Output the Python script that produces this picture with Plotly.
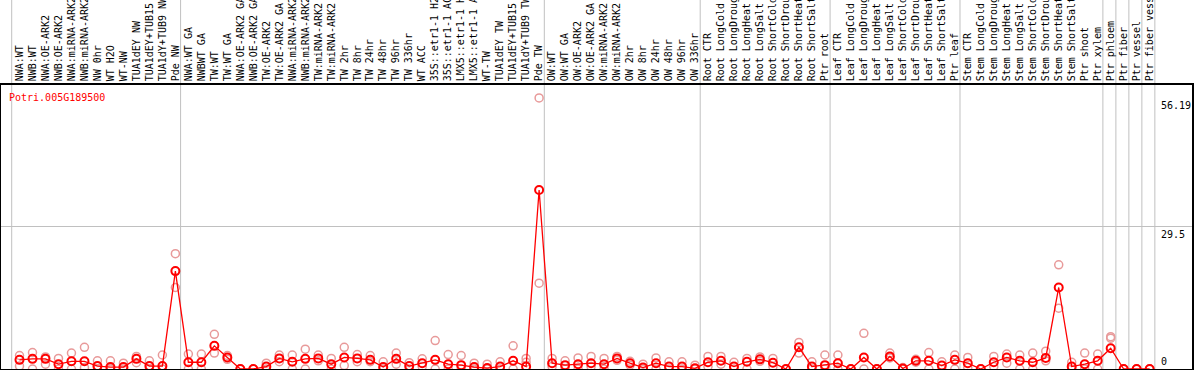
import plotly.graph_objects as go

labels = [
    "NWA:WT", "NWB:WT", "NWA:OE-ARK2", "NWB:OE-ARK2", "NWA:miRNA-ARK2", "NWB:miRNA-ARK2",
    "NW 0hr", "WT H2O", "WT-NW", "TUA1dEY NW", "TUA1dEY+TUB15 NW", "TUA1dY+TUB9 NW", "Pde NW",
    "NWA:WT GA", "NWBWT GA", "TW:WT", "TW:WT GA", "NWA:OE-ARK2 GA", "NWB:OE-ARK2 GA",
    "TW:OE-ARK2", "TW:OE-ARK2 GA", "NWA:miRNA-ARK2", "NWB:miRNA-ARK2", "TW:miRNA-ARK2",
    "TW:miRNA-ARK2", "TW 2hr", "TW 8hr", "TW 24hr", "TW 48hr", "TW 96hr", "TW 336hr",
    "WT ACC", "35S::etr1-1 H2O", "35S::etr1-1 ACC", "LMX5::etr1-1 H2O", "LMX5::etr1-1 ACC",
    "WT-TW", "TUA1dEY TW", "TUA1dEY+TUB15 TW", "TUA1dY+TUB9 TW", "Pde TW",
    "OW:WT", "OW:WT GA", "OW:OE-ARK2", "OW:OE-ARK2 GA", "OW:miRNA-ARK2", "OW:miRNA-ARK2",
    "OW 2hr", "OW 8hr", "OW 24hr", "OW 48hr", "OW 96hr", "OW 336hr",
    "Root CTR", "Root LongCold", "Root LongDrought", "Root LongHeat", "Root LongSalt",
    "Root ShortCold", "Root ShortDrought", "Root ShortHeat", "Root ShortSalt", "Ptr root",
    "Leaf CTR", "Leaf LongCold", "Leaf LongDrought", "Leaf LongHeat", "Leaf LongSalt",
    "Leaf ShortCold", "Leaf ShortDrought", "Leaf ShortHeat", "Leaf ShortSalt", "Ptr leaf",
    "Stem CTR", "Stem LongCold", "Stem LongDrought", "Stem LongHeat", "Stem LongSalt",
    "Stem ShortCold", "Stem ShortDrought", "Stem ShortHeat", "Stem ShortSalt",
    "Ptr shoot", "Ptr xylem", "Ptr phloem", "Ptr fiber", "Ptr vessel", "Ptr fiber vessel",
]

mean_values = [
    1.9, 2.1, 2.1, 1.0, 1.6, 1.6, 0.6, 0.4, 0.4, 2.1, 0.6, 0.6, 20.3,
    1.4, 1.4, 4.8, 2.4, 0.0, 0.0, 0.5, 2.2, 1.5, 2.1, 2.2, 1.0, 2.4, 2.2, 1.9,
    0.4, 2.1, 0.6, 1.2, 1.9, 1.0, 0.8, 0.4, 0.2, 0.5, 1.7, 0.5, 37.1,
    1.2, 0.8, 1.0, 1.2, 1.0, 2.2, 1.2, 0.3, 1.2, 0.5, 0.5, 0.15,
    1.4, 1.7, 0.5, 1.5, 2.0, 1.3, 0.0, 4.5, 0.5, 0.8,
    1.2, 0.0, 2.4, 0.0, 2.6, 0.1, 1.7, 1.7, 0.7, 1.9,
    1.2, 0.0, 1.4, 2.4, 1.7, 1.4, 2.3, 16.9, 0.5, 1.0, 1.7,
    4.3, 0.0, 0.0, 0.0,
]

rep_high = [
    2.8, 3.4, 2.5, 2.2, 3.3, 4.5, 1.7, 1.7, 1.2, 2.6, 1.7, 2.9, 23.9,
    3.1, 3.1, 7.2, 2.8, 0.0, 0.0, 1.2, 2.9, 2.9, 4.1, 2.9, 2.2, 4.5, 3.0, 2.8,
    1.5, 3.3, 1.3, 2.1, 5.9, 3.0, 2.8, 1.2, 1.0, 1.5, 4.8, 2.2, 56.19,
    2.2, 1.7, 2.3, 2.6, 2.2, 2.6, 1.6, 1.0, 2.3, 1.5, 1.5, 0.8,
    2.6, 2.6, 1.4, 2.2, 2.5, 2.2, 0.0, 5.5, 1.5, 2.9,
    2.9, 0.0, 7.4, 0.0, 3.3, 0.3, 2.0, 3.4, 1.5, 2.9,
    2.4, 0.0, 2.6, 3.1, 2.9, 3.3, 3.7, 21.6, 1.4, 3.3, 3.1,
    6.7, 0.0, 0.0, 0.0,
]

rep_low = [
    0.6, 0.0, 1.0, 0.0, 0.0, 0.3, 0.0, 0.0, 0.0, 1.3, 0.0, 0.0, 16.9,
    0.0, 0.0, 3.3, 2.0, 0.0, 0.0, 0.0, 1.5, 0.0, 0.0, 1.7, 0.0, 0.7, 1.5, 1.5,
    0.0, 1.0, 0.0, 0.5, 0.0, 0.0, 0.0, 0.0, 0.0, 0.0, 0.0, 1.4, 17.8,
    0.5, 0.0, 0.0, 0.5, 0.0, 1.8, 0.8, 0.0, 0.0, 0.0, 0.0, 0.0,
    0.5, 1.0, 0.0, 0.0, 1.6, 0.5, 0.0, 3.3, 0.0, 0.0,
    0.0, 0.0, 0.0, 0.0, 2.3, 0.0, 1.4, 0.0, 0.0, 0.0,
    0.3, 0.0, 0.5, 1.2, 0.0, 0.0, 1.7, 12.6, 0.0, 0.0, 0.0,
    6.4, 0.0, 0.0, 0.0,
]

group_ends = [0, 13, 41, 53, 63, 73, 84, 85, 86, 87, 88]
y_ticks = [0, 29.5, 56.19]
gene_id = "Potri.005G189500"

positions = list(range(1, len(labels) + 1))
MONO = "DejaVu Sans Mono"
PALE = "#E89A9A"

fig = go.Figure()
for reps in (rep_high, rep_low):
    fig.add_trace(go.Scatter(
        x=positions, y=reps, mode="markers",
        marker=dict(symbol="circle-open", size=8, color=PALE, line=dict(width=1.5, color=PALE)),
        showlegend=False, hoverinfo="skip",
    ))
fig.add_trace(go.Scatter(
    x=positions, y=mean_values, mode="lines+markers",
    line=dict(color="#FF0000", width=1.3),
    marker=dict(symbol="circle-open", size=8, color="#FF0000", line=dict(width=2, color="#FF0000")),
    showlegend=False,
))

for g in group_ends:
    fig.add_shape(type="line", xref="x", yref="paper", x0=g + 0.4, x1=g + 0.4, y0=0, y1=1.31,
                  line=dict(color="#C0C0C0", width=1), layer="below")

for v in y_ticks:
    fig.add_annotation(x=88.75, y=v, xref="x", yref="y", text=("%g" % v), showarrow=False,
                       xanchor="left", yanchor=("bottom" if v == 0 else "top"),
                       font=dict(family=MONO, size=10, color="black"))

fig.add_annotation(x=0.005, y=0.984, xref="paper", yref="paper", text=gene_id, showarrow=False,
                   xanchor="left", yanchor="top", font=dict(family=MONO, size=10, color="#FF0000"))

fig.update_layout(
    width=1194, height=370,
    margin=dict(l=1, r=2, t=85, b=1, pad=0),
    plot_bgcolor="white", paper_bgcolor="white",
    xaxis=dict(range=[-0.424, 91.26], tickmode="array", tickvals=positions, ticktext=labels,
               side="top", tickangle=-90, ticks="", showgrid=False, zeroline=False,
               showline=True, linecolor="black", linewidth=1.5, mirror=True,
               tickfont=dict(family=MONO, size=10, color="black"), automargin=False),
    yaxis=dict(range=[0, 58.88], tickmode="array", tickvals=[29.5], showticklabels=False,
               showgrid=True, gridcolor="#C0C0C0", gridwidth=1, zeroline=False,
               showline=True, linecolor="black", linewidth=1.5, mirror=True, automargin=False),
)

fig.write_html("out.html", config={"displayModeBar": False},
               post_script="document.body.style.margin='0px';")
